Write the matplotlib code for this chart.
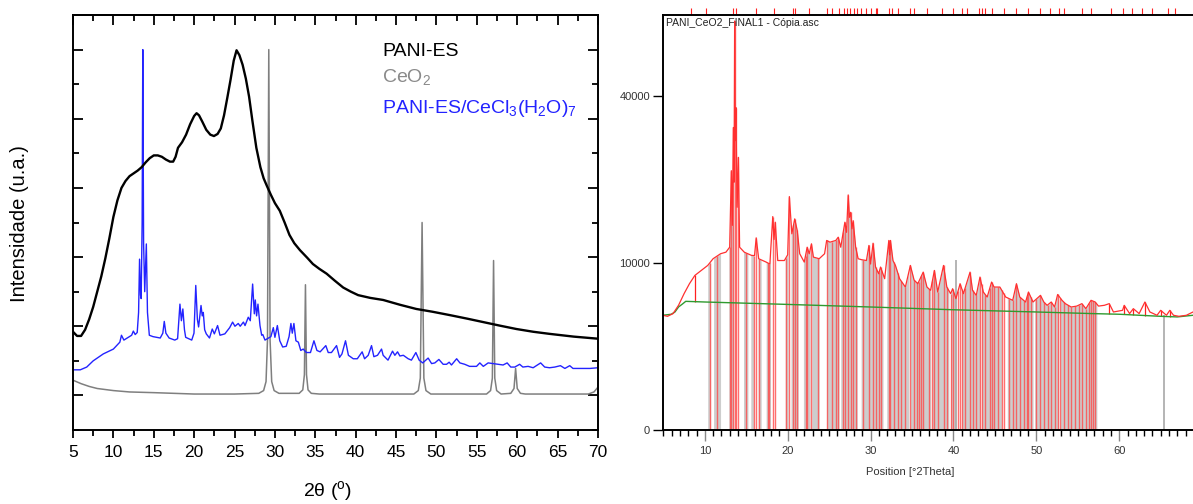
import numpy as np
import matplotlib
matplotlib.use('Agg')
import matplotlib.pyplot as plt
from matplotlib.ticker import MultipleLocator, FixedLocator

plt.rcParams['font.family'] = ['Liberation Sans', 'DejaVu Sans']
plt.rcParams['mathtext.fontset'] = 'custom'
plt.rcParams['mathtext.rm'] = 'Liberation Sans'
plt.rcParams['mathtext.it'] = 'Liberation Sans'

# ---------------- left panel: stacked patterns (offset units) ----------------
pani_x = [5, 5.5, 6.0, 6.5, 7.0, 7.5, 8.0, 8.5, 9.0, 9.5, 10.0, 10.5, 11.0, 11.5, 12.0,
          12.5, 13.0, 13.5, 14.0, 14.5, 15.0, 15.5, 16.0, 16.5, 17.0, 17.4, 17.7, 18.0,
          18.5, 19.0, 19.5, 20.0, 20.3, 20.6, 21.0, 21.5, 22.0, 22.45, 22.9, 23.3, 23.7,
          24.1, 24.5, 24.9, 25.25, 25.6, 26.0, 26.4, 26.8, 27.2, 27.7, 28.2, 28.6, 29.0,
          29.5, 30.0, 30.6, 31.2, 31.8, 32.4, 33.1, 34.0, 34.7, 35.5, 36.4, 37.4, 38.45,
          39.4, 40.3, 41.8, 43.4, 45.5, 47.5, 49.5, 51.7, 53.8, 55.8, 57.8, 59.9, 62.0,
          64.0, 67.0, 70.0]
pani_y = [0.92, 0.86, 0.86, 0.95, 1.10, 1.28, 1.50, 1.72, 1.98, 2.27, 2.58, 2.82, 3.00,
          3.10, 3.17, 3.21, 3.25, 3.30, 3.37, 3.43, 3.47, 3.47, 3.45, 3.41, 3.38, 3.38,
          3.45, 3.58, 3.66, 3.77, 3.92, 4.04, 4.08, 4.05, 3.96, 3.84, 3.77, 3.75, 3.78,
          3.86, 4.05, 4.30, 4.56, 4.84, 4.99, 4.92, 4.78, 4.58, 4.32, 3.98, 3.58, 3.30,
          3.14, 3.03, 2.90, 2.78, 2.67, 2.50, 2.32, 2.20, 2.10, 1.99, 1.90, 1.83, 1.76,
          1.66, 1.56, 1.50, 1.45, 1.41, 1.38, 1.31, 1.25, 1.21, 1.16, 1.11, 1.06, 1.01,
          0.96, 0.92, 0.89, 0.85, 0.82]

ceo2_x = [5, 6, 7, 8, 10, 12, 15, 20, 25, 28.0, 28.6, 28.9, 29.08, 29.24, 29.4, 29.6, 29.9,
          30.5, 33.0, 33.45, 33.65, 33.78, 33.91, 34.1, 34.5, 35.5, 47.2, 47.75, 48.0,
          48.22, 48.44, 48.7, 49.3, 56.2, 56.7, 56.92, 57.07, 57.22, 57.45, 58.0, 59.2,
          59.6, 59.8, 60.0, 60.4, 61, 68.8, 69.5, 70]
ceo2_y = [0.22, 0.17, 0.13, 0.10, 0.07, 0.05, 0.04, 0.02, 0.02, 0.03, 0.07, 0.2, 0.8, 5.0,
          0.8, 0.2, 0.07, 0.03, 0.03, 0.08, 0.3, 1.6, 0.3, 0.08, 0.03, 0.02, 0.02, 0.07,
          0.25, 2.5, 0.25, 0.07, 0.02, 0.02, 0.07, 0.25, 1.95, 0.25, 0.07, 0.02, 0.03,
          0.1, 0.39, 0.1, 0.03, 0.02, 0.02, 0.05, 0.12]

comp_x = [5.0, 5.9, 6.7, 7.5, 8.75, 10.0, 10.8, 11.0, 11.3, 12.26, 12.47, 12.7, 12.95, 13.12,
          13.24, 13.36, 13.44, 13.56, 13.64, 13.74, 13.88, 14.08, 14.22, 14.45, 14.9, 15.8,
          16.12, 16.3, 16.5, 16.9, 17.6, 17.95, 18.24, 18.42, 18.6, 18.8, 18.95, 19.7,
          19.98, 20.2, 20.4, 20.55, 20.85, 21.0, 21.13, 21.3, 21.5, 21.9, 22.24, 22.5,
          22.9, 23.2, 23.8, 24.4, 24.76, 25.05, 25.46, 25.7, 26.1, 26.3, 26.7, 26.95,
          27.24, 27.45, 27.57, 27.73, 27.9, 28.15, 28.36, 28.5, 28.77, 29.2, 29.5, 29.8,
          30.0, 30.3, 30.6, 30.96, 31.4, 31.75, 31.98, 32.15, 32.35, 32.6, 32.9, 33.2,
          33.5, 33.9, 34.4, 34.83, 35.2, 35.6, 36.3, 36.6, 37.0, 37.63, 38.0, 38.3, 38.74,
          39.1, 39.7, 40.2, 40.8, 41.1, 41.55, 41.96, 42.25, 42.7, 43.2, 43.4, 44.0,
          44.56, 44.85, 45.18, 45.47, 45.9, 46.5, 46.9, 47.45, 47.86, 48.3, 48.97, 49.4,
          49.8, 50.3, 50.83, 51.25, 51.57, 51.86, 52.5, 52.9, 53.5, 54.1, 54.96, 55.37,
          55.8, 56.4, 57.0, 57.6, 58.25, 58.75, 59.2, 59.7, 60.3, 60.7, 61.35, 61.97,
          62.9, 63.4, 64.0, 64.65, 65.35, 65.9, 66.5, 66.9, 68.2, 69.0, 70.0]
comp_y = [0.37, 0.37, 0.41, 0.50, 0.60, 0.67, 0.77, 0.87, 0.80, 0.87, 0.93, 0.88, 0.91, 1.2,
          1.97, 1.45, 1.4, 2.5, 5.0, 2.2, 1.5, 2.19, 1.2, 0.87, 0.85, 0.83,
          0.9, 1.07, 0.9, 0.83, 0.80, 0.82, 1.32, 1.08, 1.25, 0.95, 0.84, 0.80,
          0.9, 1.59, 1.1, 0.99, 1.30, 1.15, 1.20, 0.95, 0.89, 0.83, 0.96, 0.89,
          1.01, 0.87, 0.89, 0.98, 1.06, 1.00, 1.04, 1.0, 1.06, 1.01, 1.13, 1.08,
          1.61, 1.18, 1.38, 1.15, 1.32, 1.01, 0.87, 0.88, 0.80, 0.83, 0.85, 0.98,
          0.84, 1.01, 0.79, 0.70, 0.71, 0.85, 1.04, 0.9, 1.04, 0.79, 0.77, 0.65,
          0.67, 0.62, 0.62, 0.79, 0.65, 0.63, 0.72, 0.62, 0.62, 0.72, 0.55, 0.6, 0.79,
          0.58, 0.53, 0.53, 0.63, 0.53, 0.58, 0.72, 0.56, 0.58, 0.67, 0.58, 0.51,
          0.64, 0.58, 0.63, 0.57, 0.58, 0.53, 0.51, 0.62, 0.51, 0.47, 0.54, 0.46,
          0.47, 0.52, 0.45, 0.45, 0.48, 0.44, 0.53, 0.47, 0.45, 0.42, 0.42, 0.47,
          0.42, 0.47, 0.46, 0.45, 0.44, 0.47, 0.41, 0.41, 0.45, 0.41, 0.42, 0.40,
          0.47, 0.41, 0.40, 0.41, 0.43, 0.39, 0.43, 0.39, 0.39, 0.39, 0.40]

legend_labels = ['PANI-ES', 'CeO$_2$', 'PANI-ES/CeCl$_3$(H$_2$O)$_7$']
legend_colors = ['black', '#8a8a8a', '#2323ff']

# ---------------- right panel: HighScore screenshot (counts) ----------------
obs_x = [4.93, 5.5, 6.17, 6.83, 7.5, 8.15, 8.8, 9.47, 10.35, 11.0, 11.9, 12.55, 13.0, 13.2,
         13.32, 13.45, 13.53, 13.6, 13.68, 13.75, 13.9, 14.05, 14.2, 14.76, 15.64, 16.0,
         16.2, 16.5, 17.4, 17.85, 18.2, 18.35, 18.5, 18.8, 19.6, 20.0, 20.2, 20.5, 20.85,
         21.15, 21.45, 22.0, 22.35, 22.6, 22.87, 23.1, 23.8, 24.45, 24.7, 25.1, 25.8,
         26.1, 26.4, 26.9, 27.1, 27.3, 27.45, 27.6, 27.75, 27.9, 28.2, 28.5, 28.86, 29.5,
         29.8, 30.0, 30.3, 30.6, 30.98, 31.2, 31.7, 32.2, 32.3, 32.4, 32.7, 33.0, 33.5,
         34.2, 34.8, 35.25, 35.7, 36.35, 36.8, 37.24, 37.7, 38.1, 38.8, 39.2, 39.66,
         39.9, 40.3, 40.8, 41.2, 42.0, 42.3, 42.75, 43.2, 43.6, 44.07, 44.6, 44.9, 45.6,
         46.3, 47.15, 47.6, 48.0, 48.7, 49.05, 49.6, 50.5, 50.9, 51.3, 51.8, 52.2, 52.57,
         53.1, 53.5, 54.2, 54.87, 55.5, 55.97, 56.6, 57.1, 57.5, 58.2, 58.8, 59.3, 60.4,
         60.6, 61.25, 61.7, 62.4, 63.1, 63.7, 64.56, 65.0, 65.7, 66.1, 66.55, 67.2, 68.1,
         68.9]
obs_y = [4715, 4630, 4855, 5570, 6660, 7670, 8560, 9045, 9700, 10510, 11130, 11330, 11970,
         24090, 15000, 32790, 22000, 59920, 30000, 37250, 17770, 26630, 11970, 11330,
         10920, 10900, 13230, 10510, 10100, 9870, 16320, 13000, 15470, 10290, 10290,
         11000, 19520, 13790, 15970, 14260, 11130, 10100, 11970, 11130, 12420, 10710,
         10510, 11130, 12870, 12640, 12870, 13320, 11970, 15470, 14000, 19800, 16200,
         16980, 14500, 15700, 11970, 10510, 10400, 10290, 12200, 9870, 12500, 9510, 8750,
         9510, 8200, 12870, 11000, 12870, 10290, 9700, 8200, 7320, 9700, 8050, 7670,
         8930, 7320, 6990, 9120, 6820, 9700, 7320, 6660, 7150, 6180, 7670, 6660, 8930,
         6990, 6495, 8380, 6820, 6335, 7840, 7320, 7320, 6335, 6025, 7670, 6335, 5870,
         6820, 5870, 6495, 5870, 5570, 5870, 5420, 6580, 6025, 5720, 5420, 5500, 5720,
         5275, 6025, 5870, 5500, 5570, 5720, 4990, 5130, 5570, 4855, 5275, 4855, 5870,
         4990, 4715, 5130, 4715, 5130, 4715, 4630, 4715, 4990]

bg_x = [4.93, 5.95, 6.4, 6.83, 7.36, 7.7, 10.0, 20.0, 30.0, 40.0, 50.0, 57.0, 60.0, 65.0,
        67.0, 68.9]
bg_y = [4715, 4800, 4990, 5420, 5720, 5930, 5870, 5650, 5420, 5180, 4990, 4850, 4800,
        4630, 4580, 4715]

# ranges covered by the grey reference pattern
band_lo = [10.35, 11.06, 12.9, 14.67, 15.55, 16.43, 17.4, 19.7, 20.4, 21.9, 22.9, 24.68,
           26.4, 28.86, 31.95, 34.8, 37.46, 39.66, 41.0, 43.4, 46.5, 49.8, 52.9]
band_hi = [10.7, 11.9, 13.5, 15.2, 15.9, 16.8, 17.93, 20.05, 21.28, 22.7, 23.8, 26.2,
           28.4, 31.5, 34.6, 37.24, 39.44, 40.3, 43.2, 45.8, 49.6, 52.66, 57.3]

peak_pos = [10.57, 11.45, 13.0, 13.2, 13.45, 13.6, 13.75, 14.05, 15.0, 15.9, 16.2, 16.5,
            17.6, 17.75, 18.2, 18.5, 19.8, 20.2, 20.7, 20.85, 21.15, 22.15, 22.35, 22.87,
            23.6, 24.7, 25.3, 25.8, 26.1, 26.7, 26.9, 27.3, 27.6, 27.9, 28.2, 29.1, 29.8,
            30.3, 30.6, 31.05, 31.2, 32.2, 32.4, 32.8, 33.3, 33.7, 34.2, 34.8, 35.25, 35.55,
            35.8, 36.1, 36.35, 37.0, 37.45, 37.7, 38.1, 38.8, 39.2, 39.66, 39.9, 40.55,
            40.8, 41.0, 41.4, 42.0, 42.3, 42.75, 43.2, 43.4, 43.85, 44.4, 44.6, 44.95,
            45.4, 45.8, 46.05, 46.7, 47.15, 47.6, 48.0, 48.5, 48.9, 49.05, 49.35, 50.0,
            50.5, 50.9, 51.35, 51.8, 52.2, 52.57, 52.9, 53.3, 53.8, 54.2, 54.65, 55.1,
            55.5, 55.97, 56.4, 56.6, 56.85, 57.1]
small_peaks = [8.8, 58.8, 60.6, 61.7, 63.1, 65.0, 66.1]
ref_lines_x = [40.3, 65.45]
ref_lines_y = [10400, 4750]
top_marks = [8.28, 10.2, 13.4, 13.8, 16.2, 18.3, 20.7, 20.9, 22.6, 24.7, 25.4, 26.2,
             26.75, 27.1, 27.5, 28.0, 28.4, 28.9, 29.4, 30.0, 30.6, 30.8, 32.2, 32.6,
             33.3, 34.8, 35.25, 36.8, 38.6, 39.9, 41.0, 41.6, 43.05, 43.4, 43.85, 44.7,
             46.05, 47.6, 49.05, 50.5, 51.6, 52.7, 53.3, 55.5, 56.6, 59.05, 60.4, 61.5,
             62.8, 63.9, 65.9, 66.7]

W, H = 1193, 504
fig = plt.figure(figsize=(W / 100, H / 100), dpi=100)

# ---- left axes ----
ax1 = fig.add_axes([73 / W, 74 / H, 525 / W, 415 / H])
ax1.plot(ceo2_x, ceo2_y, color='#7f7f7f', lw=1.1)
ax1.plot(comp_x, comp_y, color='#2323ff', lw=1.0)
ax1.plot(pani_x, pani_y, color='black', lw=1.7)
ax1.set_xlim(5, 70)
ax1.set_ylim(-0.5, 5.5)
ax1.xaxis.set_major_locator(MultipleLocator(5))
ax1.xaxis.set_minor_locator(MultipleLocator(2.5))
ax1.yaxis.set_major_locator(MultipleLocator(1))
ax1.yaxis.set_minor_locator(MultipleLocator(0.5))
ax1.tick_params(axis='y', which='both', direction='in', left=True, right=True,
                labelleft=False, width=1.3)
ax1.tick_params(axis='y', which='major', length=7)
ax1.tick_params(axis='y', which='minor', length=4)
ax1.tick_params(axis='x', which='both', direction='out', top=False, width=1.3,
                labelsize=12.5, pad=5)
ax1.tick_params(axis='x', which='major', length=6)
ax1.tick_params(axis='x', which='minor', length=4)
top = ax1.secondary_xaxis('top')
top.xaxis.set_major_locator(MultipleLocator(5))
top.xaxis.set_minor_locator(MultipleLocator(2.5))
top.tick_params(which='both', direction='in', labeltop=False, width=1.3)
top.tick_params(which='major', length=7)
top.tick_params(which='minor', length=4)
for sp in list(ax1.spines.values()) + list(top.spines.values()):
    sp.set_linewidth(1.4)

ybase = [0.901, 0.839, 0.7646]
for lab, col, yy in zip(legend_labels, legend_colors, ybase):
    ax1.text(0.5886, yy, lab, color=col, fontsize=14, va='baseline', ha='left',
             transform=ax1.transAxes)

fig.text(20 / W, 1 - 224 / H, 'Intensidade (u.a.)', rotation=90, ha='center',
         va='center', fontsize=14.5)
fig.text(328 / W, 1 - 491 / H, r'2θ ($^{\mathrm{o}}$)', ha='center', va='center',
         fontsize=14)

# ---- right axes ----
ax2 = fig.add_axes([662.7 / W, 74 / H, 1 - 662.7 / W, 415 / H])
ax2.set_yscale('function', functions=(lambda v: np.sqrt(np.clip(v, 0, None)),
                                      lambda v: np.square(v)))
for lo, hi in zip(band_lo, band_hi):
    xx = np.linspace(lo, hi, 40)
    ax2.fill_between(xx, 0, np.interp(xx, obs_x, obs_y), color='#cdcdcd', lw=0)
ax2.vlines(ref_lines_x, 0, ref_lines_y, color='#a8a8a8', lw=1.2)
ax2.vlines(peak_pos, 0, np.interp(peak_pos, obs_x, obs_y), color='#ff4a4a',
           lw=1.0, alpha=0.8)
ax2.vlines(small_peaks, np.interp(small_peaks, bg_x, bg_y),
           np.interp(small_peaks, obs_x, obs_y), color='#ff2020', lw=0.9)
ax2.plot(bg_x, bg_y, color='#2f9a2f', lw=1.0)
ax2.plot(obs_x, obs_y, color='#ff3030', lw=0.9)
ax2.vlines(top_marks, 1.0, 1.018, transform=ax2.get_xaxis_transform(),
           color='#ff2020', lw=0.8, clip_on=False)
ax2.set_xlim(4.92, 68.9)
ax2.set_ylim(0, 61700)
ax2.yaxis.set_major_locator(FixedLocator([0, 10000, 40000]))
ax2.yaxis.set_minor_locator(FixedLocator([]))
ax2.yaxis.set_major_formatter(plt.FuncFormatter(lambda v, p: '%d' % v))
ax2.xaxis.set_major_locator(MultipleLocator(10))
ax2.xaxis.set_minor_locator(MultipleLocator(1))
ax2.tick_params(axis='both', which='both', direction='out', labelsize=8,
                labelcolor='#333333', width=1.0)
ax2.tick_params(axis='x', which='major', length=8, color='#888888')
ax2.tick_params(axis='x', which='minor', length=4)
ax2.tick_params(axis='y', which='major', length=7, pad=2)
ax2.spines['right'].set_visible(False)
for s in ['left', 'top', 'bottom']:
    ax2.spines[s].set_linewidth(1.4)
ax2.text(0.006, 0.992, 'PANI_CeO2_FINAL1 - Cópia.asc', transform=ax2.transAxes,
         va='top', ha='left', fontsize=7.5, color='#222222')
fig.text(910 / W, 1 - 472 / H, 'Position [°2Theta]', ha='center', va='center',
         fontsize=8, color='#333333')

fig.savefig('out.png', dpi=100)
